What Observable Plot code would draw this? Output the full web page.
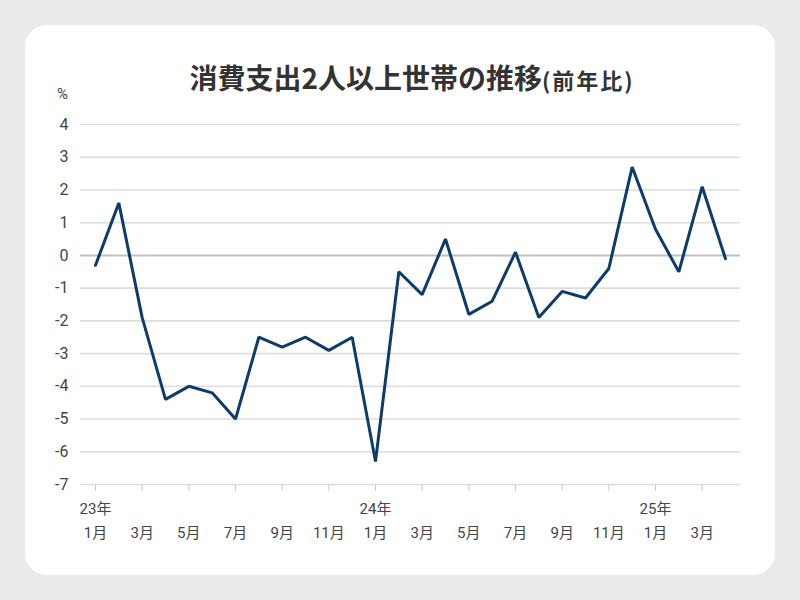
<!DOCTYPE html>
<html>
<head>
<meta charset="utf-8">
<script src="https://cdn.jsdelivr.net/npm/d3@7"></script>
<script src="https://cdn.jsdelivr.net/npm/@observablehq/plot@0.6"></script>
<style>
  html, body { margin: 0; padding: 0; width: 800px; height: 600px; background: #ebebeb; overflow: hidden; }
  #card { position: absolute; left: 25px; top: 25px; width: 750px; height: 550px; background: #fff; border-radius: 22px; }
  #title { position: absolute; left: 12px; top: 58px; width: 800px; text-align: center; font-family: "Noto Sans CJK JP", sans-serif; font-weight: 700; font-size: 28px; color: #333; line-height: 38px; white-space: nowrap; }
  #title small { font-size: 22px; font-weight: 700; letter-spacing: 2px; }
  #unit { position: absolute; left: 57px; top: 85px; font-family: Roboto, "Noto Sans CJK JP", sans-serif; font-size: 15px; color: #444; }
  #chart { position: absolute; left: 0; top: 0; }
</style>
</head>
<body>
<div id="card"></div>
<div id="title">消費支出2人以上世帯の推移<small>(前年比)</small></div>
<div id="unit">%</div>
<div id="chart"></div>
<script>
// months (YYYY-MM)
const months = [
  "2023-01","2023-02","2023-03","2023-04","2023-05","2023-06","2023-07","2023-08","2023-09","2023-10","2023-11","2023-12",
  "2024-01","2024-02","2024-03","2024-04","2024-05","2024-06","2024-07","2024-08","2024-09","2024-10","2024-11","2024-12",
  "2025-01","2025-02","2025-03","2025-04"
];
// year-over-year change (%)
const values = [
  -0.3, 1.6, -1.9, -4.4, -4.0, -4.2, -5.0, -2.5, -2.8, -2.5, -2.9, -2.5,
  -6.3, -0.5, -1.2, 0.5, -1.8, -1.4, 0.1, -1.9, -1.1, -1.3, -0.4, 2.7,
  0.8, -0.5, 2.1, -0.1
];
const yTicks = [4, 3, 2, 1, 0, -1, -2, -3, -4, -5, -6, -7];

const data = months.map((m, i) => ({i, month: m, value: values[i]}));
const tickIdx = months.map((m, i) => i).filter(i => +months[i].slice(5) % 2 === 1);
const yearIdx = months.map((m, i) => i).filter(i => months[i].slice(5) === "01");
const monthLabel = i => `${+months[i].slice(5)}月`;
const yearLabel = i => `${months[i].slice(2, 4)}年`;

const font = 'Roboto, "Noto Sans CJK JP", sans-serif';

const chart = Plot.plot({
  width: 800,
  height: 600,
  marginLeft: 80,
  marginRight: 60,
  marginTop: 124,
  marginBottom: 116,
  style: {background: "transparent", fontFamily: font, fontSize: "15px", color: "#444"},
  x: {type: "linear", domain: [-0.643, 27.643]},
  y: {domain: [-7, 4]},
  marks: [
    Plot.ruleY(yTicks.filter(d => d !== 0), {stroke: "#dddddd", strokeWidth: 1.6}),
    Plot.ruleY([0], {stroke: "#bfbfbf", strokeWidth: 2}),
    Plot.axisY({ticks: yTicks, tickSize: 0, tickPadding: 12, tickFormat: d => `${d}`, label: null, fontSize: 16}),
    Plot.axisX({ticks: tickIdx, tickSize: 7, tickPadding: 36, tickFormat: monthLabel, label: null, stroke: "#cccccc", fontSize: 15}),
    Plot.axisX({ticks: yearIdx, tickSize: 0, tickPadding: 19, tickFormat: yearLabel, label: null, fontSize: 15}),
    Plot.lineY(data, {x: "i", y: "value", stroke: "#0d3c6a", strokeWidth: 3, strokeLinejoin: "miter"})
  ]
});
document.getElementById("chart").appendChild(chart);
</script>
</body>
</html>
